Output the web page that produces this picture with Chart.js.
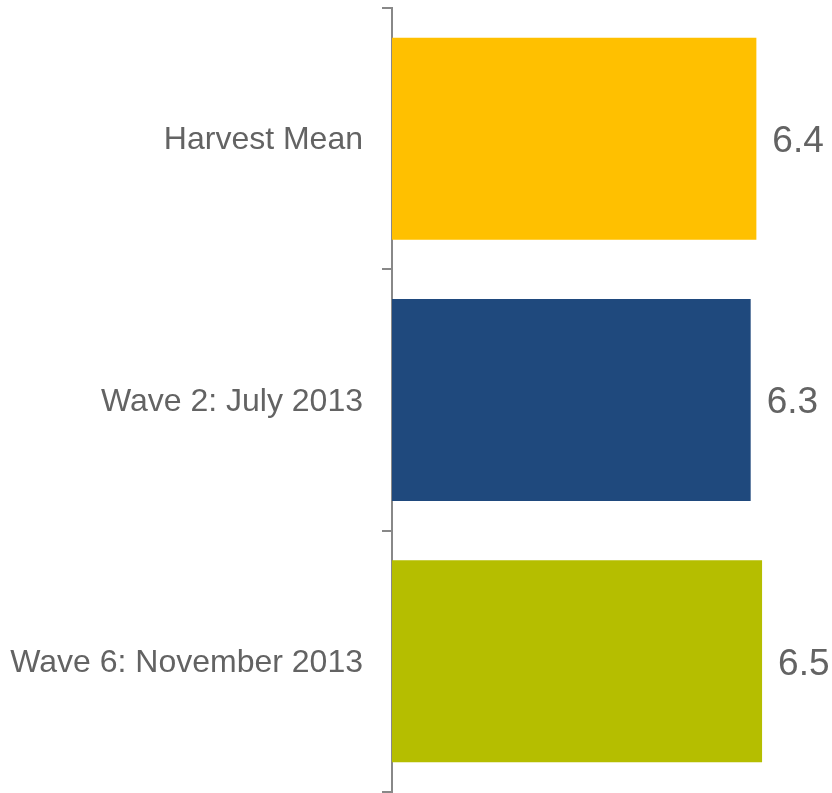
<!DOCTYPE html>
<html>
<head>
<meta charset="utf-8">
<script src="https://cdn.jsdelivr.net/npm/chart.js@4/dist/chart.umd.min.js"></script>
<style>
  html, body { margin: 0; padding: 0; background: #fff; }
  #wrap { width: 832px; height: 793px; }
</style>
</head>
<body>
<div id="wrap"><canvas id="myChart"></canvas></div>
<script>
const categories = ['Harvest Mean', 'Wave 2: July 2013', 'Wave 6: November 2013'];
const scores = [6.4, 6.3, 6.5];
const barColors = ['#FFC000', '#1F497D', '#B5BE00'];

// prints each bar's value just past its end
const valueLabels = {
    id: 'valueLabels',
    afterDatasetsDraw(chart) {
        const ctx = chart.ctx;
        const meta = chart.getDatasetMeta(0);
        ctx.save();
        ctx.font = '37px "Liberation Sans", Arial, sans-serif';
        ctx.fillStyle = '#636363';
        ctx.textAlign = 'left';
        ctx.textBaseline = 'middle';
        meta.data.forEach((bar, i) => {
            ctx.fillText(scores[i].toFixed(1), bar.x + 16, bar.y + 3);
        });
        ctx.restore();
    }
};

const ctx = document.getElementById('myChart').getContext('2d');
new Chart(ctx, {
    type: 'bar',
    data: {
        labels: categories,
        datasets: [{
            data: scores,
            backgroundColor: barColors,
            borderWidth: 0,
            categoryPercentage: 1,
            barPercentage: 0.773
        }]
    },
    options: {
        indexAxis: 'y',
        responsive: true,
        maintainAspectRatio: false,
        animation: false,
        layout: { padding: { top: 8, right: 13, bottom: 1, left: 0 } },
        plugins: {
            legend: { display: false },
            tooltip: { enabled: false }
        },
        scales: {
            x: {
                display: false,
                min: 0,
                max: 7.5
            },
            y: {
                afterFit(scale) {
                    scale.width = 392;
                    // axis runs the full height, labels sit mid-band anyway
                    scale.paddingTop = 0;
                    scale.paddingBottom = 0;
                },
                border: { display: true, color: '#888888', width: 2 },
                grid: {
                    drawOnChartArea: false,
                    drawTicks: true,
                    tickLength: 10,
                    color: '#888888',
                    lineWidth: 2
                },
                ticks: {
                    padding: 19,
                    labelOffset: 2,
                    color: '#636363',
                    font: { family: '"Liberation Sans", Arial, sans-serif', size: 32 }
                }
            }
        }
    },
    plugins: [valueLabels]
});
</script>
</body>
</html>
